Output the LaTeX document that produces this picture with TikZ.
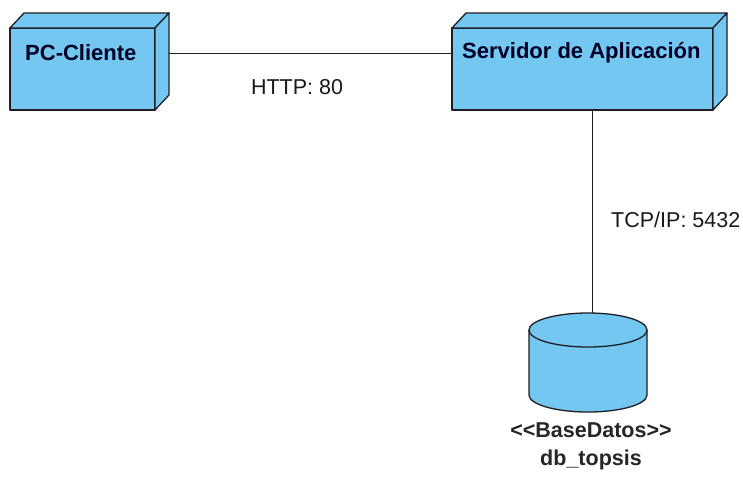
\documentclass[tikz,border=0pt]{standalone}
\usepackage{fontspec}
\setmainfont{Liberation Sans}
\definecolor{nodeblue}{RGB}{116,199,240}
\definecolor{edgedark}{RGB}{30,30,35}
\begin{document}
\begin{tikzpicture}[x=1pt,y=-1pt,
  face/.style={draw=edgedark,fill=nodeblue,line width=1.3pt,line join=round},
  frontface/.style={face,minimum width=#1,minimum height=82pt,inner sep=0pt,outer sep=0pt},
  conn/.style={draw=edgedark,line width=1pt},
  boldlabel/.style={font=\fontsize{22}{26}\selectfont\bfseries,text=black!85!blue,inner sep=0pt},
  plainlabel/.style={font=\fontsize{21.5}{26}\selectfont,text=black!90,inner sep=0pt}]
\useasboundingbox[fill=white] (0,0) rectangle (743,477);
% PC-Cliente
\node[frontface=145pt] (pc) at (82.5,69) {};
\draw[face] (pc.north west) -- ++(14,-15) -- ([shift={(14,-15)}]pc.north east) -- (pc.north east) -- cycle;
\draw[face] (pc.north east) -- ++(14,-15) -- ([shift={(14,-15)}]pc.south east) -- (pc.south east) -- cycle;
\node[boldlabel,anchor=west] (pclabel) at (25,53) {PC-Cliente};
% Servidor
\node[frontface=261pt] (srv) at (582.5,69) {};
\draw[face] (srv.north west) -- ++(14,-15) -- ([shift={(14,-15)}]srv.north east) -- (srv.north east) -- cycle;
\draw[face] (srv.north east) -- ++(14,-15) -- ([shift={(14,-15)}]srv.south east) -- (srv.south east) -- cycle;
\node[boldlabel,anchor=west] (srvlabel) at (462,53) {Servidor de Aplicación};
% Database cylinder
\coordinate (dbtop) at (592,313);
\draw[face] (529,330) -- (529,395) arc[start angle=180,end angle=0,x radius=59,y radius=17]
  -- (647,330) arc[start angle=0,end angle=-180,x radius=59,y radius=17] -- cycle;
\draw[face,fill=none] (529,330) arc[start angle=180,end angle=0,x radius=59,y radius=17];
\node[boldlabel,align=center,text=black!85,font=\fontsize{21.5}{28}\selectfont\bfseries] (dblabel) at (591,446) {<{}<BaseDatos>{}>\\db\_topsis};
% connectors
\draw[conn] ([shift={(14,-16)}]pc.east) -- ([yshift=16pt]srv.west);
\node[plainlabel] (http) at (297,87) {HTTP: 80};
\draw[conn] (srv.south -| dbtop) -- (dbtop);
\node[plainlabel,anchor=west] (tcp) at (611,220) {TCP/IP: 5432};
\end{tikzpicture}
\end{document}
